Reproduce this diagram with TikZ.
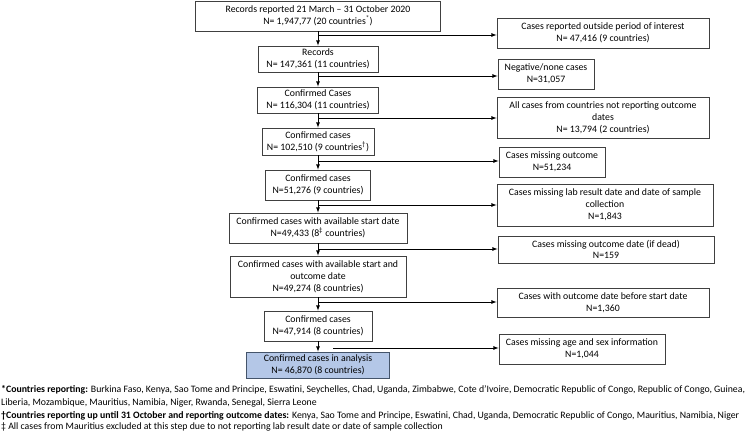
\documentclass[tikz,border=0pt]{standalone}
\usepackage{fontspec}
\setmainfont{Carlito}
\usetikzlibrary{arrows,positioning}
\definecolor{finalblue}{RGB}{180,199,231}
\definecolor{finaledge}{RGB}{68,84,106}
\newcommand{\boxfont}{\fontsize{9.8}{11.8}\selectfont}

\begin{document}
\begin{tikzpicture}[x=1pt,y=-1pt,>=latex,
    stage/.style={draw=black!75,line width=0.8pt,fill=white,align=center,
                  inner sep=1pt,font=\boxfont},
    excl/.style={stage},
    final/.style={stage,fill=finalblue,draw=finaledge},
    flow/.style={->,line width=0.8pt},
    note/.style={anchor=base west,inner sep=0pt,font=\boxfont}]
  \useasboundingbox (0,0) rectangle (745,431);

  % Main column
  \node[stage,minimum width=245pt,minimum height=30pt] (rec) at (318,16)
    {Records reported 21 March -- 31 October 2020\\N= 1,947,77 (20 countries\textsuperscript{*})};
  \node[stage,minimum width=120pt,minimum height=26pt] (records) at (318,59)
    {Records\\N= 147,361 (11 countries)};
  \node[stage,minimum width=121pt,minimum height=26pt] (confA) at (318,100)
    {Confirmed Cases\\N= 116,304 (11 countries)};
  \node[stage,minimum width=112pt,minimum height=27pt] (confB) at (318,141.5)
    {Confirmed cases\\N= 102,510 (9 countries\textsuperscript{\textdagger})};
  \node[stage,minimum width=105pt,minimum height=30pt] (confC) at (318,185)
    {Confirmed cases\\N=51,276 (9 countries)};
  \node[stage,minimum width=178pt,minimum height=30pt] (start) at (318,228)
    {Confirmed cases with available start date\\N=49,433 (8\textsuperscript{\textdaggerdbl} countries)};
  \node[stage,minimum width=176pt,minimum height=41pt] (outc) at (318,276.5)
    {Confirmed cases with available start and\\outcome date\\N=49,274 (8 countries)};
  \node[stage,minimum width=108pt,minimum height=30pt] (confD) at (318,326)
    {Confirmed cases\\N=47,914 (8 countries)};
  \node[final,minimum width=143pt,minimum height=26pt] (analysis) at (318,365)
    {Confirmed cases in analysis\\N= 46,870 (8 countries)};

  % Exclusions
  \node[excl,minimum width=212pt,minimum height=30pt] (outside) at (603,33)
    {Cases reported outside period of interest\\N= 47,416 (9 countries)};
  \node[excl,minimum width=96pt,minimum height=30pt] (negative) at (546,74)
    {Negative/none cases\\N=31,057};
  \node[excl,minimum width=212pt,minimum height=41pt] (noreport) at (603,117.5)
    {All cases from countries not reporting outcome\\dates\\N= 13,794 (2 countries)};
  \node[excl,minimum width=106pt,minimum height=30pt] (missout) at (552,162)
    {Cases missing outcome\\N=51,234};
  \node[excl,minimum width=216pt,minimum height=42pt] (missdate) at (605,205)
    {Cases missing lab result date and date of sample\\collection\\N=1,843};
  \node[excl,minimum width=216pt,minimum height=27pt] (missdead) at (606,249.5)
    {Cases missing outcome date (if dead)\\N=159};
  \node[excl,minimum width=212pt,minimum height=29pt] (before) at (603,302.5)
    {Cases with outcome date before start date\\N=1,360};
  \node[excl,minimum width=166pt,minimum height=30pt] (agesex) at (582,349)
    {Cases missing age and sex information\\N=1,044};

  % Downward arrows
  \draw[flow] (rec) -- (records);
  \draw[flow] (records) -- (confA);
  \draw[flow] (confA) -- (confB);
  \draw[flow] (confB) -- (confC);
  \draw[flow] (confC) -- (start);
  \draw[flow] (start) -- (outc);
  \draw[flow] (outc) -- (confD);
  \draw[flow] (confD) -- (analysis);

  % Branch points on the main line
  \coordinate (b1) at (318,35);
  \coordinate (b2) at (318,76);
  \coordinate (b3) at (318,118);
  \coordinate (b4) at (318,161);
  \coordinate (b5) at (318,205);
  \coordinate (b6) at (318,249);
  \coordinate (b7) at (318,302);
  \coordinate (b8) at (333,348);

  \draw[flow] (b1) -- (b1 -| outside.west);     % outside period
  \draw[flow] (b2) -- (b2 -| negative.west);    % negative
  \draw[flow] (b3) -- (b3 -| noreport.west);    % no outcome dates
  \draw[flow] (b4) -- (b4 -| missout.west);     % missing outcome
  \draw[flow] (b5) -- (b5 -| missdate.west);    % missing dates
  \draw[flow] (b6) -- (b6 -| missdead.west);    % missing date of death
  \draw[flow] (b7) -- (b7 -| before.west);      % outcome before start
  \draw[flow] (b8) -- (b8 -| agesex.west);      % missing age/sex

  % Footnotes
  \node[note] (note1) at (1,392) {\textbf{*Countries reporting:} Burkina Faso, Kenya, Sao Tome and Principe, Eswatini, Seychelles, Chad, Uganda, Zimbabwe, Cote d'Ivoire, Democratic Republic of Congo, Republic of Congo, Guinea,};
  \node[note] (note2) at (1,405) {Liberia, Mozambique, Mauritius, Namibia, Niger, Rwanda, Senegal, Sierra Leone};
  \node[note] (note3) at (1,418) {\textbf{\textdagger Countries reporting up until 31 October and reporting outcome dates:} Kenya, Sao Tome and Principe, Eswatini, Chad, Uganda, Democratic Republic of Congo, Mauritius, Namibia, Niger};
  \node[note] (note4) at (1,429.5) {\textdaggerdbl{} All cases from Mauritius excluded at this step due to not reporting lab result date or date of sample collection};
\end{tikzpicture}
\end{document}
